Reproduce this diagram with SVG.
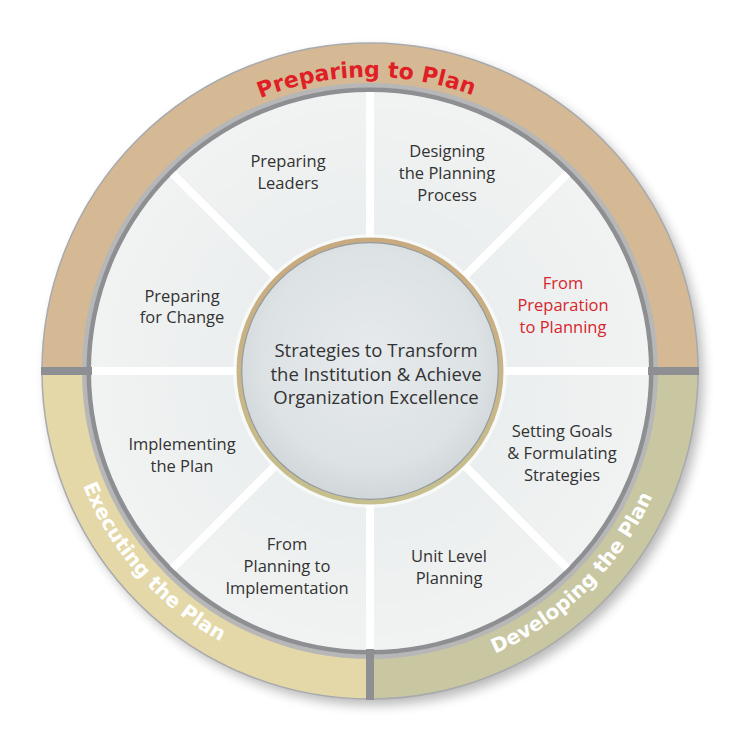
<svg xmlns="http://www.w3.org/2000/svg" width="750" height="750" viewBox="0 0 750 750">
  <defs>
    <filter id="shadow" x="-20%" y="-20%" width="140%" height="140%">
      <feGaussianBlur stdDeviation="6"/>
    </filter>
    <radialGradient id="centerFill" cx="50%" cy="45%" r="55%">
      <stop offset="0" stop-color="#e6eaec"/>
      <stop offset="0.75" stop-color="#dde2e5"/>
      <stop offset="1" stop-color="#cfd5d8"/>
    </radialGradient>
    <linearGradient id="centerRim" x1="0" y1="0" x2="0" y2="1">
      <stop offset="0" stop-color="#c8aa7e"/>
      <stop offset="0.5" stop-color="#c9b485"/>
      <stop offset="1" stop-color="#c6c08e"/>
    </linearGradient>
    <radialGradient id="segFill" cx="370" cy="371" r="280" gradientUnits="userSpaceOnUse">
      <stop offset="0.45" stop-color="#eaeeee"/>
      <stop offset="1" stop-color="#f1f3f2"/>
    </radialGradient>
    <path id="arcTop" d="M 76,371 A 294,294 0 0 1 664,371"/>
    <path id="arcBR" d="M 370,680 A 309,309 0 0 0 679,371"/>
    <path id="arcBL" d="M 61,371 A 309,309 0 0 0 370,680"/>
  </defs>
  <style>
    .seg path { fill: url(#segFill); }
    .lbl { font-family: "Open Sans", "Noto Sans", "DejaVu Sans", sans-serif; font-size: 16.5px; fill: #333333; text-anchor: middle; }
    .red { fill: #d7262e; }
    .ctr { font-family: "Open Sans", "Noto Sans", "DejaVu Sans", sans-serif; font-size: 18.5px; fill: #333333; text-anchor: middle; }
    .ring { fill: none; stroke-width: 40; }
    .ringtxt { font-family: "DejaVu Sans", "Verdana", sans-serif; font-weight: bold; text-anchor: middle; }
    .div line { stroke: #ffffff; stroke-width: 8; }
    .sep line { stroke: #8e8f93; stroke-width: 8; }
  </style>

  <!-- drop shadow -->
  <circle cx="375" cy="377" r="328" fill="#000000" opacity="0.28" filter="url(#shadow)"/>

  <!-- outer ring -->
  <g id="ring-preparing-to-plan">
    <path class="ring" d="M 62,371 A 308,308 0 0 1 678,371" stroke="#d5b995"/>
    <text class="ringtxt" font-size="22" fill="#e01e26"><textPath href="#arcTop" startOffset="49.6%">Preparing to Plan</textPath></text>
  </g>
  <g id="ring-developing-the-plan">
    <path class="ring" d="M 678,371 A 308,308 0 0 1 370,679" stroke="#c8c7a2"/>
    <text class="ringtxt" font-size="20" fill="#ffffff"><textPath href="#arcBR" startOffset="50%">Developing the Plan</textPath></text>
  </g>
  <g id="ring-executing-the-plan">
    <path class="ring" d="M 370,679 A 308,308 0 0 1 62,371" stroke="#e4d8a8"/>
    <text class="ringtxt" font-size="20" fill="#ffffff"><textPath href="#arcBL" startOffset="46%">Executing the Plan</textPath></text>
  </g>
  <circle cx="370" cy="371" r="328" fill="none" stroke="#a9aaad" stroke-width="1.5"/>
  <circle cx="370" cy="371" r="283.5" fill="#8e8f93"/>

  <!-- segments -->
  <g id="seg-preparing-leaders" class="seg">
    <path d="M370,371 L172.72,173.72 A279,279 0 0 1 370,92 Z"/>
    <text class="lbl"><tspan x="288" y="167">Preparing</tspan><tspan x="288" y="189">Leaders</tspan></text>
  </g>
  <g id="seg-designing" class="seg">
    <path d="M370,371 L370,92 A279,279 0 0 1 567.28,173.72 Z"/>
    <text class="lbl"><tspan x="447" y="157">Designing</tspan><tspan x="447" y="179">the Planning</tspan><tspan x="447" y="201">Process</tspan></text>
  </g>
  <g id="seg-from-preparation" class="seg">
    <path d="M370,371 L567.28,173.72 A279,279 0 0 1 649,371 Z"/>
    <text class="lbl red"><tspan x="563" y="289">From</tspan><tspan x="563" y="311">Preparation</tspan><tspan x="563" y="333">to Planning</tspan></text>
  </g>
  <g id="seg-setting-goals" class="seg">
    <path d="M370,371 L649,371 A279,279 0 0 1 567.28,568.28 Z"/>
    <text class="lbl"><tspan x="562" y="437">Setting Goals</tspan><tspan x="562" y="459">&amp; Formulating</tspan><tspan x="562" y="481">Strategies</tspan></text>
  </g>
  <g id="seg-unit-level" class="seg">
    <path d="M370,371 L567.28,568.28 A279,279 0 0 1 370,650 Z"/>
    <text class="lbl"><tspan x="449" y="562">Unit Level</tspan><tspan x="449" y="584">Planning</tspan></text>
  </g>
  <g id="seg-from-planning" class="seg">
    <path d="M370,371 L370,650 A279,279 0 0 1 172.72,568.28 Z"/>
    <text class="lbl"><tspan x="287" y="550">From</tspan><tspan x="287" y="572">Planning to</tspan><tspan x="287" y="594">Implementation</tspan></text>
  </g>
  <g id="seg-implementing" class="seg">
    <path d="M370,371 L172.72,568.28 A279,279 0 0 1 91,371 Z"/>
    <text class="lbl"><tspan x="182" y="450">Implementing</tspan><tspan x="182" y="472">the Plan</tspan></text>
  </g>
  <g id="seg-preparing-for-change" class="seg">
    <path d="M370,371 L91,371 A279,279 0 0 1 172.72,173.72 Z"/>
    <text class="lbl"><tspan x="182" y="302">Preparing</tspan><tspan x="182" y="323">for Change</tspan></text>
  </g>

  <!-- dividers -->
  <g id="connectors">
    <g class="div">
      <line x1="370" y1="371" x2="649" y2="371"/>
      <line x1="370" y1="371" x2="567.28" y2="568.28"/>
      <line x1="370" y1="371" x2="370" y2="650"/>
      <line x1="370" y1="371" x2="172.72" y2="568.28"/>
      <line x1="370" y1="371" x2="91" y2="371"/>
      <line x1="370" y1="371" x2="172.72" y2="173.72"/>
      <line x1="370" y1="371" x2="370" y2="92"/>
      <line x1="370" y1="371" x2="567.28" y2="173.72"/>
    </g>
    <g class="sep">
      <line x1="648" y1="371" x2="699" y2="371"/>
      <line x1="370" y1="649" x2="370" y2="700"/>
      <line x1="41" y1="371" x2="92" y2="371"/>
    </g>
  </g>

  <!-- center -->
  <g id="center">
    <circle cx="370" cy="371" r="137" fill="#ffffff" opacity="0.6"/>
    <circle cx="370" cy="371" r="131" fill="url(#centerFill)" stroke="url(#centerRim)" stroke-width="5"/>
    <circle cx="370" cy="371" r="128.3" fill="none" stroke="#959a9d" stroke-width="1.2"/>
    <text class="ctr"><tspan x="376" y="357">Strategies to Transform</tspan><tspan x="376" y="381">the Institution &amp; Achieve</tspan><tspan x="376" y="404">Organization Excellence</tspan></text>
  </g>
</svg>
